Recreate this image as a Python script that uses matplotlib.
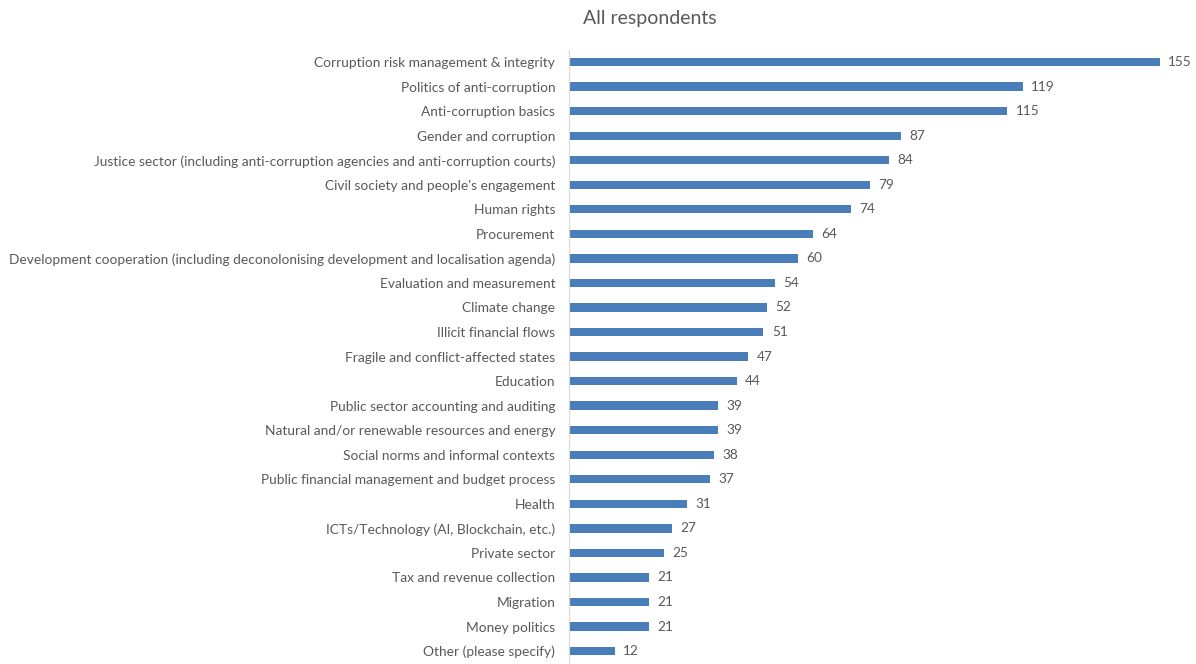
import matplotlib.pyplot as plt

categories = [
    "Corruption risk management & integrity",
    "Politics of anti-corruption",
    "Anti-corruption basics",
    "Gender and corruption",
    "Justice sector (including anti-corruption agencies and anti-corruption courts)",
    "Civil society and people's engagement",
    "Human rights",
    "Procurement",
    "Development cooperation (including deconolonising development and localisation agenda)",
    "Evaluation and measurement",
    "Climate change",
    "Illicit financial flows",
    "Fragile and conflict-affected states",
    "Education",
    "Public sector accounting and auditing",
    "Natural and/or renewable resources and energy",
    "Social norms and informal contexts",
    "Public financial management and budget process",
    "Health",
    "ICTs/Technology (AI, Blockchain, etc.)",
    "Private sector",
    "Tax and revenue collection",
    "Migration",
    "Money politics",
    "Other (please specify)",
]
counts = [155, 119, 115, 87, 84, 79, 74, 64, 60, 54, 52, 51, 47, 44,
          39, 39, 38, 37, 31, 27, 25, 21, 21, 21, 12]

plt.rcParams["font.family"] = ["Lato", "DejaVu Sans"]
grey = "#595959"

fig = plt.figure(figsize=(11.96, 6.64), dpi=100)
ax = fig.add_axes([0.4758, 0.001, 0.51, 0.924])

pos = range(len(categories))
ax.barh(pos, counts, height=0.34, color="#4a7ebb")
for y, v in zip(pos, counts):
    ax.text(v + 2.2, y, str(v), va="center", ha="left", fontsize=9.8, color=grey)

ax.set_yticks(list(pos))
ax.set_yticklabels(categories, fontsize=9.9, color=grey)
ax.tick_params(axis="y", length=0, pad=10)
ax.set_xticks([])
ax.set_xlim(0, 160)
ax.set_ylim(len(categories) - 0.5, -0.5)
for s in ["top", "right", "bottom"]:
    ax.spines[s].set_visible(False)
ax.spines["left"].set_color("#d9d9d9")

fig.text(0.543, 0.972, "All respondents", ha="center", va="center",
         fontsize=14, color=grey)

fig.savefig("out.png", dpi=100)
